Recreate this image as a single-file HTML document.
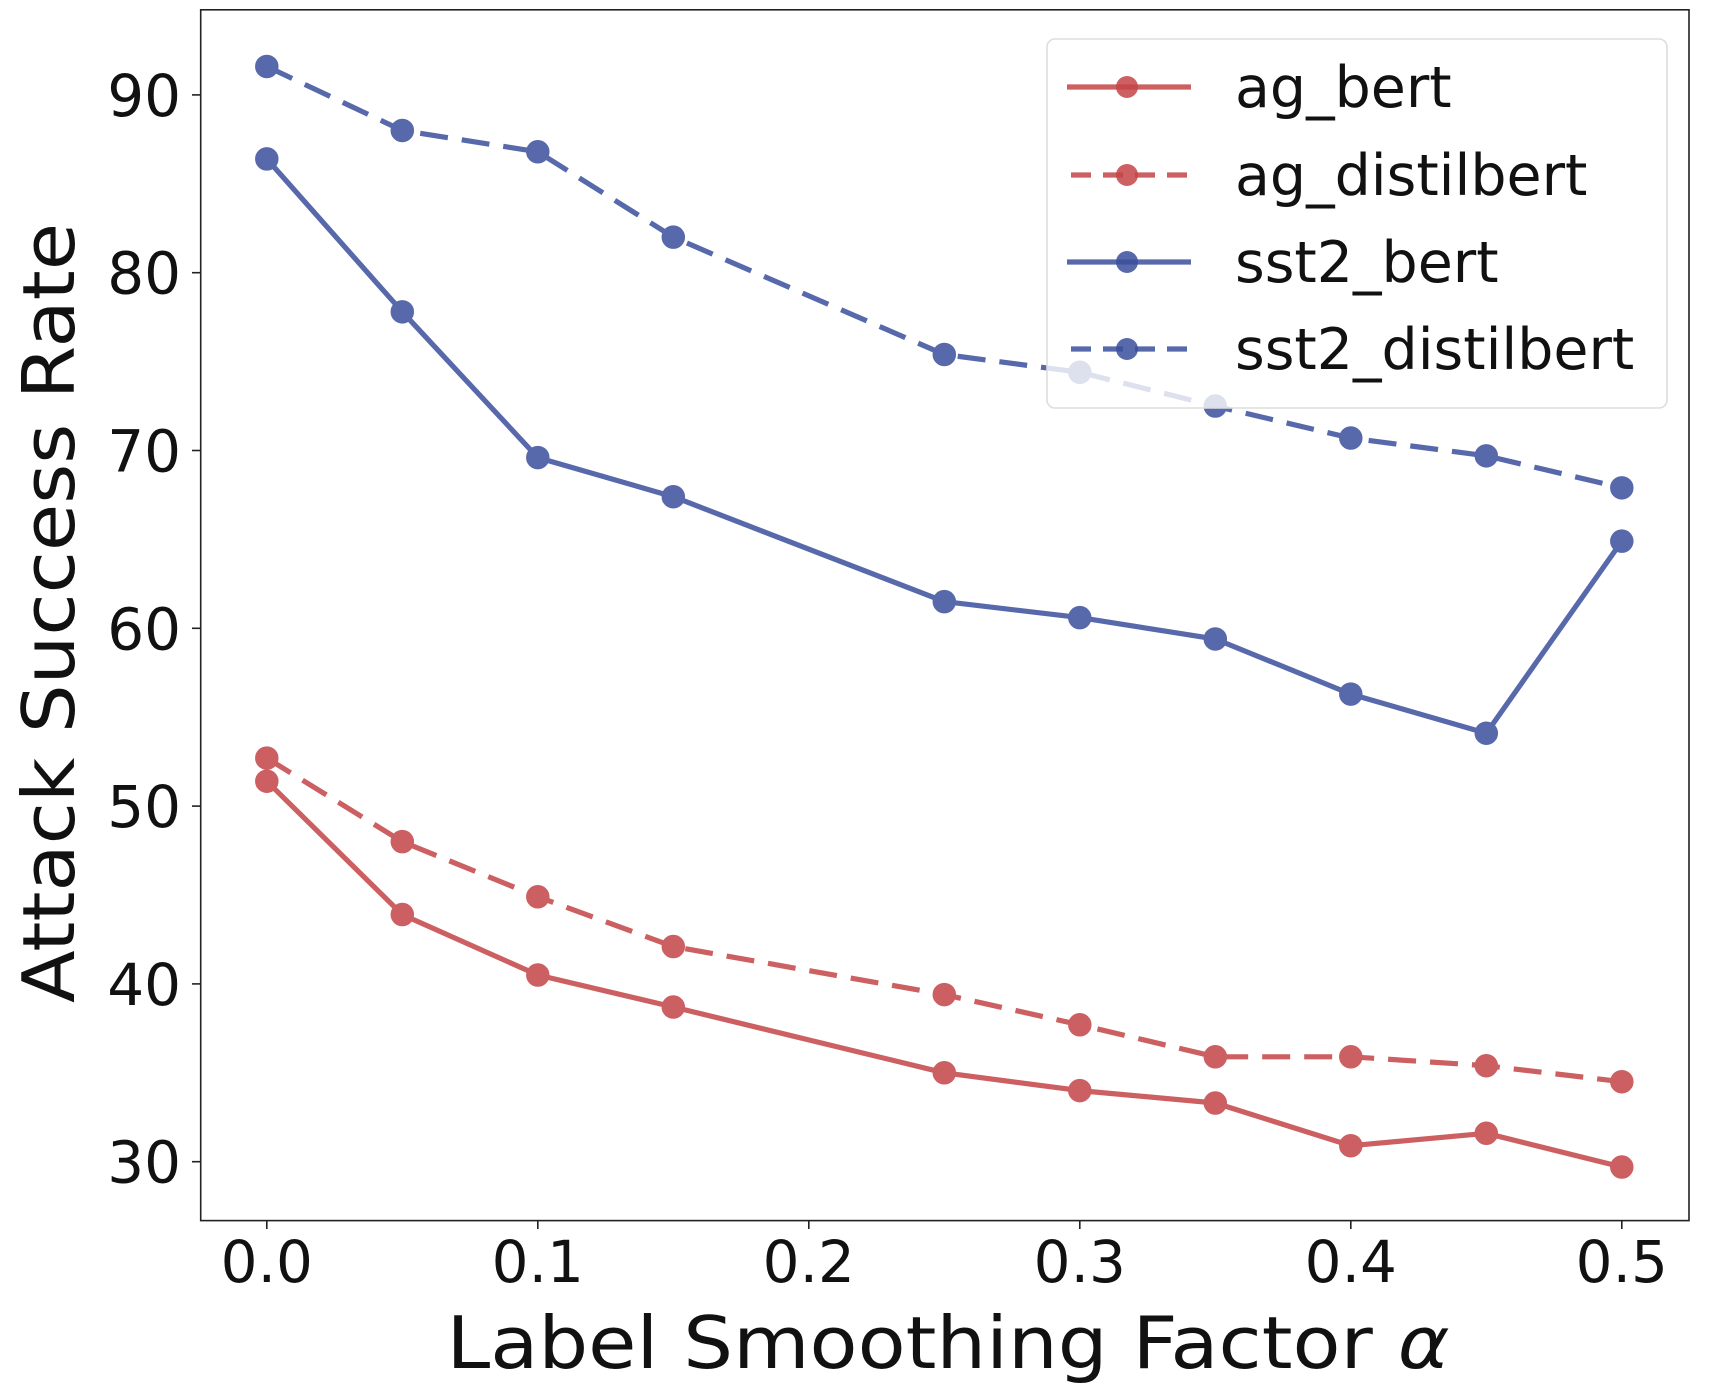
<!DOCTYPE html>
<html><head><meta charset="utf-8"><style>
html,body{margin:0;padding:0;background:#fff;}
svg{display:block;font-family:"DejaVu Sans","Liberation Sans",sans-serif;}
</style></head><body>
<svg id="chart" width="1720" height="1392" viewBox="0 0 1720 1392" xmlns="http://www.w3.org/2000/svg">
<rect x="0" y="0" width="1720" height="1392" fill="#fff"/>
<g id="plot"></g>
<rect x="200.7" y="9.8" width="1488.3" height="1210.8" fill="none" stroke="#222" stroke-width="1.6"/>
<g id="xt"></g>
<g id="yt"></g>
<text transform="translate(74,613) rotate(-90)" text-anchor="middle" font-size="72" textLength="780" lengthAdjust="spacingAndGlyphs" fill="#111">Attack Success Rate</text>
<text x="948" y="1368" text-anchor="middle" font-size="72" textLength="1003" lengthAdjust="spacingAndGlyphs" fill="#111">Label Smoothing Factor <tspan font-style="italic">α</tspan></text>
<g id="legend"></g>
</svg>
<script>
const xValues = [0, 0.05, 0.1, 0.15, 0.25, 0.3, 0.35, 0.4, 0.45, 0.5];
const agBert = [51.4, 43.9, 40.5, 38.7, 35.0, 34.0, 33.3, 30.9, 31.6, 29.7];
const agDistilbert = [52.7, 48.0, 44.9, 42.1, 39.4, 37.7, 35.9, 35.9, 35.4, 34.5];
const sst2Bert = [86.4, 77.8, 69.6, 67.4, 61.5, 60.6, 59.4, 56.3, 54.1, 64.9];
const sst2Distilbert = [91.6, 88.0, 86.8, 82.0, 75.4, 74.4, 72.5, 70.7, 69.7, 67.9];
const xTicks = [0, 0.1, 0.2, 0.3, 0.4, 0.5];
const xTickLabels = ["0.0", "0.1", "0.2", "0.3", "0.4", "0.5"];
const yTicks = [30, 40, 50, 60, 70, 80, 90];
const seriesNames = ["ag_bert", "ag_distilbert", "sst2_bert", "sst2_distilbert"];

const NS = "http://www.w3.org/2000/svg";
function xs(v){ return 266.8 + v * 2710; }
function ys(v){ return 94.9 - (v - 90) * 17.78; }
function mk(tag, attrs, parent){
  const e = document.createElementNS(NS, tag);
  for (const k in attrs) e.setAttribute(k, attrs[k]);
  parent.appendChild(e); return e;
}
const RED = "#c44446", BLUE = "#3a4f9c";
const DASH = "28 14";
const series = [
  {name: seriesNames[0], data: agBert, color: RED, dash: null},
  {name: seriesNames[1], data: agDistilbert, color: RED, dash: DASH},
  {name: seriesNames[2], data: sst2Bert, color: BLUE, dash: null},
  {name: seriesNames[3], data: sst2Distilbert, color: BLUE, dash: DASH}
];
const plot = document.getElementById("plot");
series.forEach(s => {
  const g = mk("g", {opacity: 0.85}, plot);
  
  
  const pts = s.data.map((v,i) => xs(xValues[i]).toFixed(1) + "," + ys(v).toFixed(1)).join(" ");
  const pl = mk("polyline", {points: pts, fill: "none", stroke: s.color, "stroke-width": 5.2, "stroke-linejoin": "round"}, g);
  if (s.dash) pl.setAttribute("stroke-dasharray", s.dash);
  
  
  s.data.forEach((v,i) => {
    const c = mk("circle", {cx: xs(xValues[i]), cy: ys(v), r: 11, fill: s.color, stroke: s.color, "stroke-width": 1.5}, g);
    
    
  });
});
const xt = document.getElementById("xt");
xTicks.forEach((v,i) => {
  const l = mk("line", {x1: xs(v), x2: xs(v), y1: 1220.6, y2: 1229, stroke: "#222", "stroke-width": 1.6}, xt);
  
  
  const t = mk("text", {x: xs(v), y: 1282, "text-anchor": "middle", "font-size": 58, fill: "#111"}, xt);
  t.textContent = xTickLabels[i];
  
  
});
const yt = document.getElementById("yt");
yTicks.forEach(v => {
  const l = mk("line", {x1: 192, x2: 200.7, y1: ys(v), y2: ys(v), stroke: "#222", "stroke-width": 1.6}, yt);
  
  
  const t = mk("text", {x: 181, y: ys(v) + 21, "text-anchor": "end", "font-size": 58, fill: "#111"}, yt);
  t.textContent = String(v);
  
  
});
const lg = document.getElementById("legend");
const box = mk("rect", {x: 1047, y: 39, width: 620, height: 369, rx: 8, fill: "#fff", "fill-opacity": 0.8, stroke: "#ddd", "stroke-width": 1.6}, lg);


const rowY = [87, 175, 262, 349];
series.forEach((s,i) => {
  const g = mk("g", {}, lg);
  
  
  const l = mk("line", {x1: s.dash ? 1071 : 1067, x2: 1191, y1: rowY[i], y2: rowY[i], stroke: s.color, "stroke-width": 5.2, opacity: 0.85}, g);
  if (s.dash) l.setAttribute("stroke-dasharray", "20 12");
  mk("circle", {cx: 1127, cy: rowY[i], r: 11, fill: s.color, opacity: 0.85}, g);
  const t = mk("text", {x: 1235, y: rowY[i] + 20, "font-size": 57, fill: "#111"}, g);
  t.textContent = s.name;
});
</script>
</body></html>
